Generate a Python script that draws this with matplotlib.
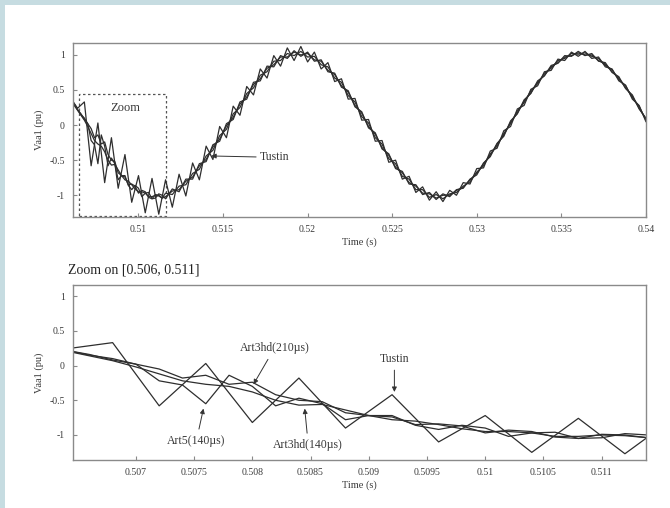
import matplotlib
matplotlib.use("Agg")
import matplotlib.pyplot as plt
from matplotlib.patches import Rectangle

plt.rcParams['font.family'] = ['Liberation Serif', 'DejaVu Serif']

# Tustin output instants (s)
time_tustin = [
    0.5060, 0.5064, 0.5068, 0.5072, 0.5076, 0.5080, 0.5084, 0.5088, 0.5092, 0.5096,
    0.5100, 0.5104, 0.5108, 0.5112, 0.5116, 0.5120, 0.5124, 0.5128, 0.5132, 0.5136,
    0.5140, 0.5144, 0.5148, 0.5152, 0.5156, 0.5160, 0.5164, 0.5168, 0.5172, 0.5176,
    0.5180, 0.5184, 0.5188, 0.5192, 0.5196, 0.5200, 0.5204, 0.5208, 0.5212, 0.5216,
    0.5220, 0.5224, 0.5228, 0.5232, 0.5236, 0.5240, 0.5244, 0.5248, 0.5252, 0.5256,
    0.5260, 0.5264, 0.5268, 0.5272, 0.5276, 0.5280, 0.5284, 0.5288, 0.5292, 0.5296,
    0.5300, 0.5304, 0.5308, 0.5312, 0.5316, 0.5320, 0.5324, 0.5328, 0.5332, 0.5336,
    0.5340, 0.5344, 0.5348, 0.5352, 0.5356, 0.5360, 0.5364, 0.5368, 0.5372, 0.5376,
    0.5380, 0.5384, 0.5388, 0.5392, 0.5396, 0.5400,
]

# ART outputs: finer stored steps over the first transient
time_art = [
    0.5060, 0.5062, 0.5064, 0.5066, 0.5068, 0.5070, 0.5072, 0.5074, 0.5076, 0.5078,
    0.5080, 0.5082, 0.5084, 0.5086, 0.5088, 0.5090, 0.5092, 0.5094, 0.5096, 0.5098,
    0.5100, 0.5102, 0.5104, 0.5106, 0.5108, 0.5110, 0.5112, 0.5114, 0.5116,
    0.5120, 0.5124, 0.5128, 0.5132, 0.5136,
    0.5140, 0.5144, 0.5148, 0.5152, 0.5156, 0.5160, 0.5164, 0.5168, 0.5172, 0.5176,
    0.5180, 0.5184, 0.5188, 0.5192, 0.5196, 0.5200, 0.5204, 0.5208, 0.5212, 0.5216,
    0.5220, 0.5224, 0.5228, 0.5232, 0.5236, 0.5240, 0.5244, 0.5248, 0.5252, 0.5256,
    0.5260, 0.5264, 0.5268, 0.5272, 0.5276, 0.5280, 0.5284, 0.5288, 0.5292, 0.5296,
    0.5300, 0.5304, 0.5308, 0.5312, 0.5316, 0.5320, 0.5324, 0.5328, 0.5332, 0.5336,
    0.5340, 0.5344, 0.5348, 0.5352, 0.5356, 0.5360, 0.5364, 0.5368, 0.5372, 0.5376,
    0.5380, 0.5384, 0.5388, 0.5392, 0.5396, 0.5400,
]

# Vaa1 (pu)
vaa_tustin = [
    0.38, 0.24, 0.33, -0.58, 0.03, -0.82, -0.18, -0.90, -0.42, -1.10,
    -0.72, -1.25, -0.76, -1.27, -0.78, -1.17, -0.70, -1.01, -0.54, -0.78,
    -0.30, -0.49, -0.02, -0.18, 0.27, 0.14, 0.55, 0.43, 0.80, 0.67,
    0.99, 0.84, 1.10, 0.92, 1.12, 0.90, 1.04, 0.80, 0.89, 0.62,
    0.66, 0.37, 0.38, 0.07, 0.08, -0.23, -0.22, -0.53, -0.50, -0.77,
    -0.73, -0.96, -0.88, -1.07, -0.95, -1.09, -0.93, -1.00, -0.82, -0.84,
    -0.62, -0.61, -0.37, -0.33, -0.08, -0.02, 0.23, 0.28, 0.51, 0.56,
    0.76, 0.78, 0.94, 0.92, 1.04, 0.98, 1.05, 0.95, 0.97, 0.83,
    0.80, 0.63, 0.57, 0.37, 0.28, 0.05,
]
vaa_art5_140 = [
    0.38, 0.30, 0.22, 0.16, 0.08, 0.02, -0.22, -0.28, -0.55, -0.14,
    -0.30, -0.58, -0.47, -0.55, -0.78, -0.72, -0.72, -0.86, -0.92, -0.86,
    -0.90, -1.02, -0.97, -0.96, -1.05, -1.04, -0.98, -1.00, -1.05,
    -0.91, -0.95, -0.77, -0.77, -0.55,
    -0.52, -0.28, -0.23, 0.02, 0.08, 0.33, 0.37, 0.61, 0.63, 0.84,
    0.83, 0.99, 0.95, 1.06, 0.98, 1.04, 0.91, 0.93, 0.76, 0.74,
    0.54, 0.49, 0.26, 0.19, -0.04, -0.11, -0.34, -0.41, -0.62, -0.66,
    -0.84, -0.85, -0.99, -0.96, -1.06, -0.98, -1.02, -0.92, -0.90, -0.77,
    -0.71, -0.54, -0.45, -0.26, -0.16, 0.06, 0.16, 0.36, 0.45, 0.63,
    0.70, 0.85, 0.88, 0.99, 0.98, 1.05, 0.99, 1.02, 0.91, 0.89,
    0.75, 0.69, 0.52, 0.43, 0.23, 0.10,
]
vaa_art3hd_210 = [
    0.38, 0.30, 0.22, 0.15, 0.10, 0.02, -0.05, -0.18, -0.14, -0.27,
    -0.24, -0.42, -0.50, -0.52, -0.68, -0.72, -0.74, -0.85, -0.84, -0.87,
    -0.97, -0.93, -0.95, -1.03, -1.05, -0.99, -1.00, -1.04, -0.97,
    -0.99, -0.87, -0.85, -0.69, -0.63,
    -0.44, -0.36, -0.15, -0.06, 0.16, 0.25, 0.45, 0.53, 0.71, 0.76,
    0.91, 0.92, 1.02, 0.99, 1.05, 0.97, 0.98, 0.86, 0.83, 0.67,
    0.61, 0.42, 0.33, 0.12, 0.03, -0.18, -0.27, -0.48, -0.55, -0.73,
    -0.77, -0.92, -0.92, -1.03, -0.99, -1.05, -0.98, -0.96, -0.87, -0.81,
    -0.67, -0.58, -0.41, -0.30, -0.12, 0.02, 0.20, 0.32, 0.49, 0.59,
    0.74, 0.81, 0.92, 0.95, 1.02, 1.01, 1.03, 0.98, 0.95, 0.85,
    0.79, 0.65, 0.56, 0.39, 0.27, 0.07,
]
vaa_art3hd_140 = [
    0.36, 0.28, 0.21, 0.14, 0.07, -0.02, -0.12, -0.22, -0.27, -0.30,
    -0.38, -0.50, -0.57, -0.56, -0.64, -0.72, -0.78, -0.80, -0.85, -0.91,
    -0.95, -0.95, -0.97, -1.02, -1.02, -1.00, -1.01, -1.04, -1.02,
    -0.94, -0.92, -0.80, -0.74, -0.58,
    -0.49, -0.31, -0.20, -0.01, 0.11, 0.30, 0.40, 0.58, 0.66, 0.81,
    0.86, 0.97, 0.97, 1.04, 1.00, 1.02, 0.93, 0.91, 0.78, 0.72,
    0.56, 0.47, 0.28, 0.17, -0.02, -0.13, -0.32, -0.43, -0.60, -0.68,
    -0.82, -0.87, -0.97, -0.98, -1.04, -1.00, -1.00, -0.93, -0.89, -0.78,
    -0.69, -0.55, -0.43, -0.27, -0.14, 0.04, 0.17, 0.34, 0.46, 0.61,
    0.71, 0.83, 0.89, 0.97, 0.99, 1.03, 1.00, 1.00, 0.92, 0.87,
    0.76, 0.67, 0.53, 0.41, 0.24, 0.09,
]

series = [
    (time_tustin, vaa_tustin),
    (time_art, vaa_art5_140),
    (time_art, vaa_art3hd_210),
    (time_art, vaa_art3hd_140),
]

y_ticks = [-1, -0.5, 0, 0.5, 1]
y_tick_labels = ['-1', '-0.5', '0', '0.5', '1']
full_ticks = [0.51, 0.515, 0.52, 0.525, 0.53, 0.535, 0.54]
full_tick_labels = ['0.51', '0.515', '0.52', '0.525', '0.53', '0.535', '0.54']
zoom_ticks = [0.507, 0.5075, 0.508, 0.5085, 0.509, 0.5095, 0.51, 0.5105, 0.511]
zoom_tick_labels = ['0.507', '0.5075', '0.508', '0.5085', '0.509', '0.5095',
                    '0.51', '0.5105', '0.511']

line_color = '#2e2e2e'
text_color = '#3a3a3a'
spine_color = '#8a8a8a'

fig = plt.figure(figsize=(6.7, 5.08), dpi=100)
fig.patch.set_facecolor('#c6dce1')
# white sheet inside the light blue frame
fig.add_artist(Rectangle((5 / 670, 0), 1, 1 - 5 / 508, transform=fig.transFigure,
                         facecolor='white', edgecolor='none', zorder=0))

ax1 = fig.add_axes([0.109, 0.5728, 0.855, 0.3426])
ax2 = fig.add_axes([0.109, 0.0945, 0.855, 0.3445])


def style_axes(ax, ticks, labels):
    for t, vals in series:
        ax.plot(t, vals, color=line_color, lw=0.9)
    ax.set_xticks(ticks)
    ax.set_xticklabels(labels)
    ax.set_yticks(y_ticks)
    ax.set_yticklabels(y_tick_labels)
    ax.tick_params(direction='in', length=3, width=0.8, color=spine_color,
                   labelsize=7, labelcolor=text_color, pad=6)
    for sp in ax.spines.values():
        sp.set_color(spine_color)
        sp.set_linewidth(1.0)
    ax.set_xlabel('Time (s)', fontsize=7.5, color=text_color, labelpad=2)
    ax.set_ylabel('Vaa1 (pu)', fontsize=7.5, color=text_color, labelpad=4)


# full window
style_axes(ax1, full_ticks, full_tick_labels)
ax1.set_xlim(0.50613, 0.54)
ax1.set_ylim(-1.31, 1.17)
ax1.add_patch(Rectangle((0.5065, -1.29), 0.0051, 1.73, fill=False,
                        linestyle=(0, (2, 2)), edgecolor='#555555', lw=0.9))
ax1.text(0.5092, 0.25, 'Zoom', fontsize=9, color=text_color, ha='center', va='center')
ax1.annotate('Tustin', xy=(0.5143, -0.44), xytext=(0.5172, -0.46),
             fontsize=8.5, color=text_color, ha='left', va='center',
             arrowprops=dict(arrowstyle='-|>', color='#333333', lw=0.7,
                             mutation_scale=7, shrinkA=1, shrinkB=0))

# zoomed window
style_axes(ax2, zoom_ticks, zoom_tick_labels)
ax2.set_xlim(0.50646, 0.51138)
ax2.set_ylim(-1.36, 1.16)

arrow = dict(arrowstyle='-|>', color='#333333', lw=0.7, mutation_scale=7,
             shrinkA=2, shrinkB=0)
ax2.annotate('Art3hd(210\u00b5s)', xy=(0.50801, -0.27), xytext=(0.50819, 0.25),
             fontsize=8.5, color=text_color, ha='center', va='center', arrowprops=arrow)
ax2.annotate('Tustin', xy=(0.50922, -0.38), xytext=(0.50922, 0.1),
             fontsize=8.5, color=text_color, ha='center', va='center', arrowprops=arrow)
ax2.annotate('Art5(140\u00b5s)', xy=(0.50758, -0.62), xytext=(0.50752, -1.08),
             fontsize=8.5, color=text_color, ha='center', va='center', arrowprops=arrow)
ax2.annotate('Art3hd(140\u00b5s)', xy=(0.50845, -0.62), xytext=(0.50848, -1.14),
             fontsize=8.5, color=text_color, ha='center', va='center', arrowprops=arrow)

fig.text(0.101, 0.468, 'Zoom on [0.506, 0.511]', fontsize=10, color='#222222',
         ha='left', va='center')

fig.savefig('out.png', dpi=100, facecolor=fig.get_facecolor())
